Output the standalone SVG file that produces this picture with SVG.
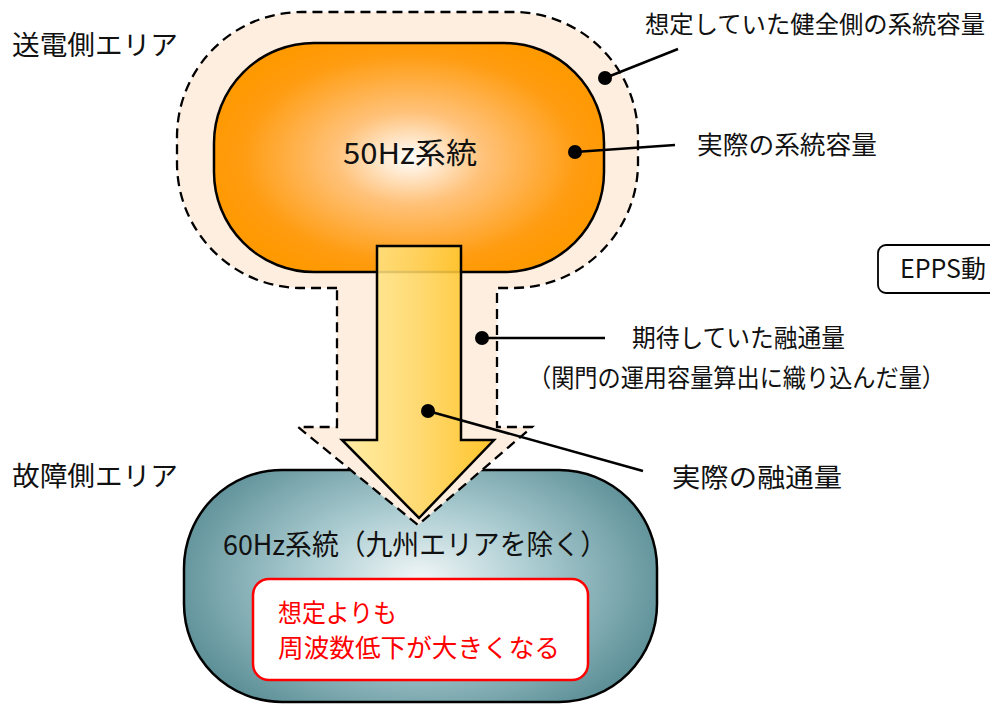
<svg xmlns="http://www.w3.org/2000/svg" width="990" height="705" viewBox="0 0 990 705">
<defs>
<style>
text{font-family:"Meiryo UI","Noto Sans CJK JP","Noto Sans",sans-serif;fill:#111}
.lbl{font-size:25px}
.lead{stroke:#000;stroke-width:2.5;fill:none}
.dot{fill:#000}
</style>
<radialGradient id="gOrange" cx="410" cy="158" r="210" gradientUnits="userSpaceOnUse" gradientTransform="translate(410 158) scale(1 0.62) translate(-410 -158)">
<stop offset="0" stop-color="#FFFFFF"/>
<stop offset="0.35" stop-color="#FFC27A"/>
<stop offset="0.8" stop-color="#FF9C10"/>
<stop offset="1" stop-color="#FF9900"/>
</radialGradient>
<radialGradient id="gTeal" cx="420" cy="580" r="260" gradientUnits="userSpaceOnUse" gradientTransform="translate(420 580) scale(1 0.62) translate(-420 -580)">
<stop offset="0" stop-color="#F2F7F8"/>
<stop offset="0.45" stop-color="#A9CBD0"/>
<stop offset="1" stop-color="#5A8D95"/>
</radialGradient>
<linearGradient id="gArrow" x1="342" y1="0" x2="494" y2="0" gradientUnits="userSpaceOnUse">
<stop offset="0" stop-color="#FFEE9E"/>
<stop offset="0.5" stop-color="#FFD764"/>
<stop offset="1" stop-color="#FFBE10"/>
</linearGradient>
</defs>

<g id="faultArea">
<rect x="184" y="470" width="473" height="232" rx="98" ry="98" fill="url(#gTeal)" stroke="#000" stroke-width="2.5"/>
<text x="223" y="555" font-size="28" textLength="384" lengthAdjust="spacingAndGlyphs">60Hz系統（九州エリアを除く）</text>
</g>

<g id="expected">
<path d="M337,288 L302,288 A125,125 0 0 1 177,163 L177,137 A125,125 0 0 1 302,12 L513,12 A125,125 0 0 1 638,137 L638,163 A125,125 0 0 1 513,288 L497,288 L497,427 L532,427 L418,525 L298,427 L337,427 Z" fill="#FEEEDF" stroke="#000" stroke-width="2.3" stroke-dasharray="10 6"/>
</g>

<g id="node50Hz">
<rect x="214" y="43" width="390" height="229" rx="100" ry="100" fill="url(#gOrange)" stroke="#000" stroke-width="2.5"/>
<text x="343" y="164" font-size="29" textLength="134" lengthAdjust="spacingAndGlyphs">50Hz系統</text>
</g>

<g id="flowArrow">
<path d="M377,246 L461,246 L461,440 L494,440 L419,518 L342,440 L377,440 Z" fill="url(#gArrow)" fill-opacity="0.88" stroke="#000" stroke-width="2.5" stroke-linejoin="miter"/>
</g>

<g id="warning">
<rect x="253" y="579" width="335" height="101" rx="16" ry="16" fill="#FFFFFF" stroke="#FF0000" stroke-width="2.5"/>
<text x="278" y="622" font-size="25" style="fill:#FF0000" textLength="119" lengthAdjust="spacingAndGlyphs">想定よりも</text>
<text x="278" y="657" font-size="25" style="fill:#FF0000" textLength="282" lengthAdjust="spacingAndGlyphs">周波数低下が大きくなる</text>
</g>

<g id="epps">
<rect x="878" y="245" width="130" height="48" rx="8" ry="8" fill="#FFFFFF" stroke="#000" stroke-width="1.8"/>
<text x="900" y="278" font-size="25">EPPS動</text>
</g>

<g id="areaLabels">
<text x="12" y="55" font-size="27" textLength="166" lengthAdjust="spacingAndGlyphs">送電側エリア</text>
<text x="12" y="486" font-size="27" textLength="166" lengthAdjust="spacingAndGlyphs">故障側エリア</text>
</g>

<g id="connectors">
<line class="lead" x1="605" y1="78" x2="678" y2="49"/>
<circle class="dot" cx="605" cy="78" r="7"/>
<line class="lead" x1="575" y1="152" x2="675" y2="145"/>
<circle class="dot" cx="575" cy="152" r="7"/>
<line class="lead" x1="482" y1="338" x2="605" y2="338"/>
<circle class="dot" cx="482" cy="338" r="7"/>
<line class="lead" x1="428" y1="411" x2="643" y2="471"/>
<circle class="dot" cx="428" cy="411" r="7"/>
</g>

<g id="calloutLabels">
<text class="lbl" x="645" y="33" style="font-size:24px" textLength="340" lengthAdjust="spacingAndGlyphs">想定していた健全側の系統容量</text>
<text class="lbl" x="697" y="154" textLength="180" lengthAdjust="spacingAndGlyphs">実際の系統容量</text>
<text class="lbl" x="632" y="347" textLength="213" lengthAdjust="spacingAndGlyphs">期待していた融通量</text>
<text class="lbl" x="528" y="387" textLength="417" lengthAdjust="spacingAndGlyphs">（関門の運用容量算出に織り込んだ量）</text>
<text class="lbl" x="672" y="487" style="font-size:26px" textLength="170" lengthAdjust="spacingAndGlyphs">実際の融通量</text>
</g>
</svg>
